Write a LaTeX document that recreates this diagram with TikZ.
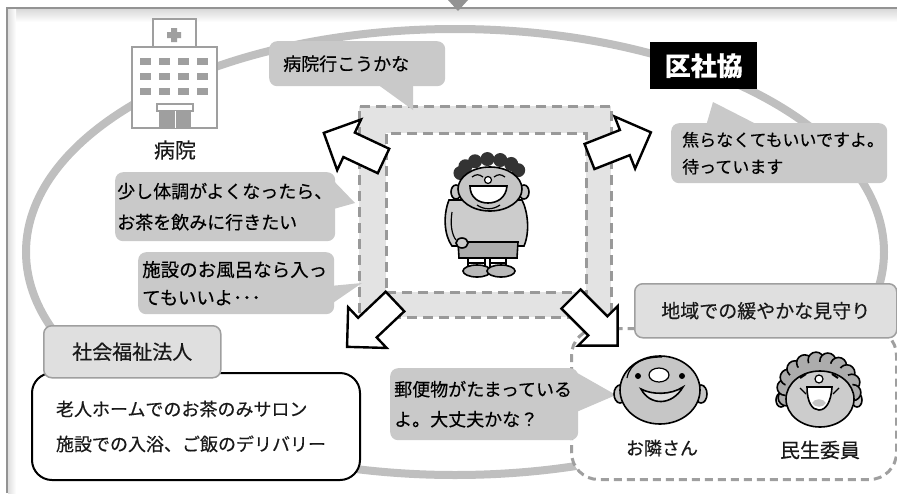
\documentclass[tikz,border=0pt]{standalone}
\usepackage{fontspec}
\setmainfont{Noto Sans CJK JP}[FakeBold=0.4]
\usetikzlibrary{calc}

\begin{document}
\begin{tikzpicture}[x=1pt, y=-1pt,
    bubble/.style={fill=gray!42, rounded corners=8pt, anchor=north west,
                   align=left, inner ysep=0pt, text=black},
    tail/.style={fill=gray!42},
    tab/.style={draw=gray!75, line width=1.5pt, fill=gray!25, rounded corners=8pt,
                anchor=north west, inner sep=0pt, text=black!90},
    band/.style={draw=gray!80, line width=2.5pt, dash pattern=on 10pt off 6pt,
                 anchor=north west, inner sep=0pt},
    face/.style={draw=black, line width=1.6pt, fill=gray!45},
    thin/.style={line width=1.2pt},
    blockarrow/.pic={
        \draw[line width=2.4pt, fill=white, miter limit=10]
            (0,-13.5) -- (38,-13.5) -- (38,-28) -- (66,0) -- (38,28)
            -- (38,13.5) -- (0,13.5) -- cycle;
    }
]
\useasboundingbox (0,0) rectangle (897,493);

% frame
\shade[top color=gray!30, bottom color=white] (8,9) rectangle (897,22);
\shade[left color=gray!25, right color=white] (8,9) rectangle (16,493);
\draw[gray!85, line width=2.5pt] (7,493) -- (7,8) -- (897,8);
\fill[gray!85] (448,0) -- (468,0) -- (458,11) -- cycle;

% the circle of support
\draw[gray!50, line width=8pt] (455,252) ellipse [x radius=429, y radius=223];

% centre
\node[band, fill=gray!22, minimum width=252pt, minimum height=211pt] (outer) at (358,105) {};
\node[band, fill=white, minimum width=200pt, minimum height=159pt] (inner) at (385,132) {};

% boy
\filldraw[face, fill=gray!40] (449,200) .. controls (443,215) and (444,235) .. (452,246)
    -- (524,246) .. controls (530,232) and (528,212) .. (522,200) -- cycle;
\filldraw[face, fill=gray!65] (458,242) -- (518,242) -- (517,258) -- (459,258) -- cycle;
\filldraw[face, fill=white] (468,258) rectangle (485,268) (490,258) rectangle (506,268);
\draw[thin] (468,263) -- (485,263) (490,263) -- (506,263);
\filldraw[face, fill=gray!55] (477,271) ellipse [x radius=14, y radius=6];
\filldraw[face, fill=gray!55] (501,271) ellipse [x radius=14, y radius=6];
\draw[thin] (452,212) .. controls (450,225) and (452,235) .. (456,240);
\filldraw[face, fill=gray!40] (462,243) ellipse [x radius=6, y radius=5];
\foreach \a in {190,215,...,350}
    \fill[black!80] ($(490,176)+(\a:30 and 17)$) circle (7);
\filldraw[face] (456,192) ellipse [x radius=5, y radius=7];
\filldraw[face] (524,192) ellipse [x radius=5, y radius=7];
\filldraw[face] (490,189) ellipse [x radius=32, y radius=22];
\draw[thin] (472,177) .. controls (476,174) and (479,174) .. (483,177)
            (494,177) .. controls (498,174) and (501,174) .. (505,177);
\filldraw[thin, fill=white] (488,180) circle (3.5);
\filldraw[line width=1.6pt, fill=white] (470,186) -- (507,186)
    .. controls (506,198) and (497,203) .. (488,203)
    .. controls (479,203) and (470,198) .. (470,186) -- cycle;
\draw[thin] (477,205) .. controls (484,210) and (493,210) .. (500,205);

% hospital
\filldraw[draw=gray!75, fill=white, line width=1.5pt] (153,19) rectangle (196,47);
\filldraw[draw=gray!75, fill=white, line width=1.5pt] (132,47) rectangle (217,128);
\fill[gray!75] (171,28) rectangle (177,42) (167,32) rectangle (181,38);
\foreach \y in {58,73,88}
    \foreach \x in {140,159,178,197}
        \fill[gray!75] (\x,\y) rectangle +(11,7);
\draw[gray!75, line width=1.5pt] (157,104) rectangle (193,111);
\fill[gray!75] (159,111) rectangle (191,128);
\draw[white, line width=1pt] (175,111) -- (175,128);
\node[font=\fontsize{21}{24}\selectfont, text=black!90] (hosp) at (175,150) {病院};

% speech bubbles
\fill[tail] (377,84) -- (413,110) -- (413,84) -- cycle;
\node[bubble, inner xsep=14pt, text width=148pt, minimum height=45pt,
      font=\fontsize{18}{22}\selectfont] (go) at (269,41) {病院行こうかな};

\node[fill=black, text=white, font=\fontsize{26}{30}\selectfont\bfseries,
      minimum width=107pt, minimum height=47pt, anchor=north west, inner sep=0pt]
      (kusha) at (650,42) {区社協};

\fill[tail] (706,126) -- (713,102) -- (760,126) -- cycle;
\node[bubble, inner xsep=11pt, text width=194pt, minimum height=60pt,
      font=\fontsize{17}{27}\selectfont] (wait) at (671,123)
      {焦らなくてもいいですよ。\\待っています};

\fill[tail] (330,177) -- (355,203) -- (330,210) -- cycle;
\node[bubble, inner xsep=2pt, text width=216pt, minimum height=69pt,
      font=\fontsize{18}{31}\selectfont] (tea) at (115,172)
      {少し体調がよくなったら、\\お茶を飲みに行きたい};

\fill[tail] (330,286) -- (362,283) -- (330,305) -- cycle;
\node[bubble, inner xsep=4pt, text width=188pt, minimum height=62pt,
      font=\fontsize{18.5}{28}\selectfont] (bath) at (138,252)
      {施設のお風呂なら入っ\\てもいいよ･･･};

% social welfare corporation
\node[draw, line width=2pt, rounded corners=20pt, fill=white, anchor=north west,
      minimum height=107pt, inner xsep=24pt, text width=280pt, align=left,
      font=\fontsize{18}{35}\selectfont, text=black!90] (salon) at (31,372)
      {老人ホームでのお茶のみサロン\\施設での入浴、ご飯のデリバリー};
\node[tab, minimum width=177pt, minimum height=52pt,
      font=\fontsize{20}{24}\selectfont] (corp) at (43,325) {社会福祉法人};

% neighbourhood
\node[draw=gray!75, line width=3pt, dash pattern=on 8pt off 5pt, fill=white,
      rounded corners=27pt, anchor=north west, inner sep=0pt,
      minimum width=325pt, minimum height=151pt] (area) at (570,327) {};
\node[tab, minimum width=262pt, minimum height=54pt,
      font=\fontsize{19}{23}\selectfont] (watch) at (634,283) {地域での緩やかな見守り};

\fill[tail] (572,370) -- (616,395) -- (574,413) -- cycle;
\node[bubble, inner xsep=4pt, text width=180pt, minimum height=72pt,
      font=\fontsize{18}{30}\selectfont] (mail) at (390,368)
      {郵便物がたまっている\\よ。大丈夫かな？};

% neighbour
\filldraw[face] (620,394) ellipse [x radius=6, y radius=9];
\filldraw[face] (701,394) ellipse [x radius=6, y radius=9];
\filldraw[face] (660,390) ellipse [x radius=40, y radius=34];
\draw[thin] (627,378) .. controls (630,362) and (645,357) .. (662,357);
\fill (638,376) circle (3) (682,376) circle (3);
\filldraw[thin, fill=white] (659,375) ellipse [x radius=10, y radius=7];
\filldraw[line width=1.6pt, fill=gray!25] (641,389) .. controls (650,406) and (672,406) .. (683,387)
    .. controls (671,395) and (652,395) .. (641,389) -- cycle;
\node[font=\fontsize{18}{22}\selectfont, text=black!90] (nbr) at (662,448) {お隣さん};

% welfare commissioner
\filldraw[face] (781,400) ellipse [x radius=5, y radius=7];
\filldraw[face] (857,400) ellipse [x radius=5, y radius=7];
\foreach \a in {165,185,...,375}
    \filldraw[face, fill=gray!65] ($(819,390)+(\a:34 and 30)$) circle (8);
\fill[gray!65] (819,390) ellipse [x radius=34, y radius=28];
\filldraw[face, fill=gray!40] (820,399) ellipse [x radius=34, y radius=28];
\draw[line width=2pt] (800,378) -- (806,374) (838,378) -- (832,374);
\draw[thin] (800,388) -- (806,394) (839,388) -- (833,394);
\filldraw[thin, fill=white] (819,379) circle (4);
\filldraw[line width=1.6pt, fill=white] (807,387) -- (832,387)
    .. controls (831,402) and (826,410) .. (819,410)
    .. controls (812,410) and (807,402) .. (807,387) -- cycle;
\fill[gray!45] (812,403) .. controls (815,398) and (823,398) .. (826,403)
    .. controls (823,408) and (815,408) .. (812,403);
\node[font=\fontsize{20}{24}\selectfont, text=black!90] (cmt) at (820,450) {民生委員};

% arrows out of the centre
\pic[rotate=154.8] at (383.5,161) {blockarrow};
\pic[rotate=21.5] at (589.5,156.5) {blockarrow};
\pic[rotate=223.4] at (395,301.5) {blockarrow};
\pic[rotate=-45] at (571,299) {blockarrow};

\end{tikzpicture}
\end{document}
